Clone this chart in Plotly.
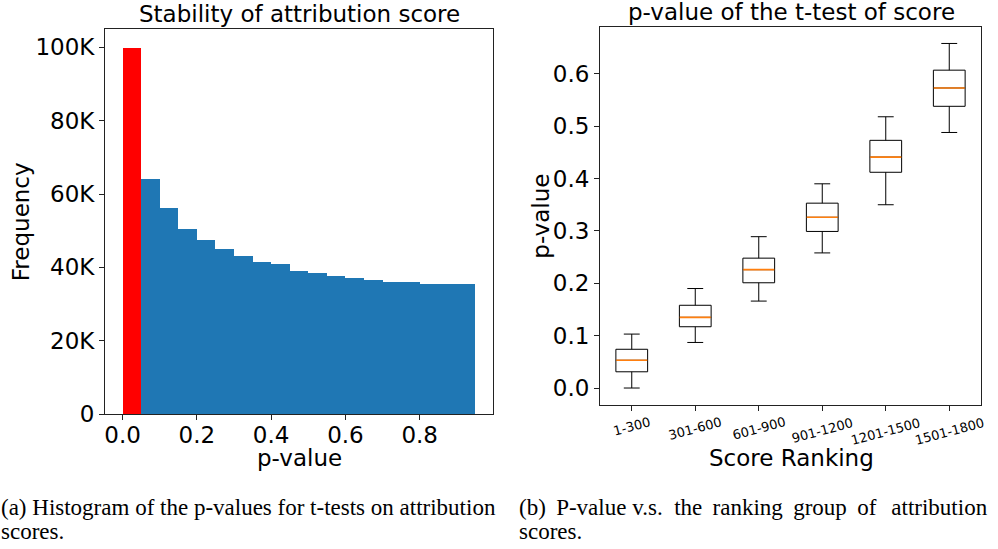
import plotly.graph_objects as go

# ---------------- data ----------------
# (a) histogram of p-values (bin centres, width 0.05) and frequencies
bin_centers = [0.025, 0.075, 0.125, 0.175, 0.225, 0.275, 0.325, 0.375, 0.425, 0.475,
               0.525, 0.575, 0.625, 0.675, 0.725, 0.775, 0.825, 0.875, 0.925]
frequencies = [99900, 64200, 56100, 50400, 47400, 44900, 43000, 41400, 40800, 38900,
               38400, 37600, 37000, 36500, 35900, 35900, 35400, 35400, 35400]
hist_xticks = [0.0, 0.2, 0.4, 0.6, 0.8]
hist_yticks = [0, 20000, 40000, 60000, 80000, 100000]
hist_yticklabels = ["0", "20K", "40K", "60K", "80K", "100K"]

# (b) box plot statistics per ranking group
groups = ["1-300", "301-600", "601-900", "901-1200", "1201-1500", "1501-1800"]
box_lower = [0.000, 0.087, 0.166, 0.258, 0.350, 0.488]
box_q1 = [0.031, 0.117, 0.201, 0.299, 0.412, 0.538]
box_median = [0.053, 0.135, 0.226, 0.326, 0.441, 0.573]
box_q3 = [0.074, 0.158, 0.248, 0.353, 0.473, 0.607]
box_upper = [0.103, 0.190, 0.289, 0.390, 0.518, 0.658]
box_yticks = [0.0, 0.1, 0.2, 0.3, 0.4, 0.5, 0.6]

TS = "\u2009"
caption_a = ["(a) Histogram of the p-values for t-tests on attribution", "scores."]
caption_b = ["(b) " + TS + "P-value v.s.&nbsp; the " + TS + "ranking " + TS + "group " + TS
             + "of " + TS + TS + "attribution", "scores."]

# ---------------- layout helpers ----------------
W, H = 998, 549
def px(x):
    return x / W
def py(y):
    return 1 - y / H

SANS = "DejaVu Sans"
SERIF = "Liberation Serif"
BLUE = "#1f77b4"
RED = "#ff0000"
ORANGE = "#ff7f0e"
AX = "#222222"
FS = 23

fig = go.Figure()

# histogram bars
bar_colors = [RED] + [BLUE] * (len(frequencies) - 1)
fig.add_trace(go.Bar(x=bin_centers, y=frequencies, width=0.05,
                     marker=dict(color=bar_colors, line=dict(width=0)),
                     xaxis="x", yaxis="y", showlegend=False))

# box plots
positions = list(range(1, len(groups) + 1))
fig.add_trace(go.Box(x=positions, q1=box_q1, median=box_median, q3=box_q3,
                     lowerfence=box_lower, upperfence=box_upper,
                     width=0.5, whiskerwidth=0.5, boxpoints=False,
                     line=dict(color="black", width=1), fillcolor="white",
                     xaxis="x2", yaxis="y2", showlegend=False))

# orange median lines
mx, my = [], []
for p, m in zip(positions, box_median):
    mx += [p - 0.245, p + 0.245, None]
    my += [m, m, None]
fig.add_trace(go.Scatter(x=mx, y=my, mode="lines", line=dict(color=ORANGE, width=1.6),
                         xaxis="x2", yaxis="y2", showlegend=False))

axis_common = dict(showline=True, mirror=True, linecolor=AX, linewidth=1,
                   ticks="outside", ticklen=5, tickwidth=1, tickcolor=AX,
                   showgrid=False, zeroline=False, automargin=False,
                   tickfont=dict(family=SANS, size=FS, color="black"))

fig.update_layout(
    width=W, height=H,
    margin=dict(l=0, r=0, t=0, b=0, pad=0, autoexpand=False),
    paper_bgcolor="white", plot_bgcolor="white",
    bargap=0, hovermode=False,
    xaxis=dict(domain=[px(105), px(493)], range=[-0.0475, 0.9975],
               tickvals=hist_xticks, tickformat=".1f", ticklabelstandoff=-5, **axis_common),
    yaxis=dict(domain=[py(414), py(29)], range=[0, 105000],
               tickvals=hist_yticks, ticktext=hist_yticklabels, **axis_common),
    xaxis2=dict(domain=[px(600), px(981)], range=[0.5, 6.5],
                tickvals=positions, showticklabels=False, anchor="y2", **axis_common),
    yaxis2=dict(domain=[py(405.3), py(26.7)], range=[-0.033, 0.690],
                tickvals=box_yticks, tickformat=".1f", anchor="x2", **axis_common),
)

ann = []
def text(t, x, y, size=FS, family=SANS, angle=0, xanchor="center", yanchor="middle", xref="paper"):
    ann.append(dict(text=t, x=x, y=y, xref=xref, yref="paper", showarrow=False,
                    font=dict(family=family, size=size, color="black"), borderpad=0,
                    textangle=angle, xanchor=xanchor, yanchor=yanchor))

# titles and axis labels
text("Stability of attribution score", px(299), py(14.2))
text("p-value of the t-test of score", px(791), py(12.5))
text("p-value", px(299.5), py(458))
text("Frequency", px(20.7), py(221.5), angle=-90)
text("p-value", px(540.7), py(216), angle=-90)
text("Score Ranking", px(791), py(458))

# rotated category tick labels for (b)
for p, g in zip(positions, groups):
    text(g, p, py(413.5), size=13, angle=-15, yanchor="top", xref="x2")

# captions
text(caption_a[0], px(0), py(507.3), size=23, family=SERIF, xanchor="left")
text(caption_a[1], px(0), py(531.3), size=23, family=SERIF, xanchor="left")
text(caption_b[0], px(518), py(507.3), size=23, family=SERIF, xanchor="left")
text(caption_b[1], px(518), py(531.3), size=23, family=SERIF, xanchor="left")

fig.update_layout(annotations=ann)

post = (
    "document.documentElement.style.margin='0';"
    "document.documentElement.style.overflow='hidden';"
    "document.body.style.margin='0';"
    "document.body.style.overflow='hidden';"
    "var g=document.querySelector('.plotly-graph-div');"
    "g.style.position='absolute';g.style.left='0px';g.style.top='0px';"
)
fig.write_html("out.html", config={"displayModeBar": False, "staticPlot": True},
               post_script=post)
